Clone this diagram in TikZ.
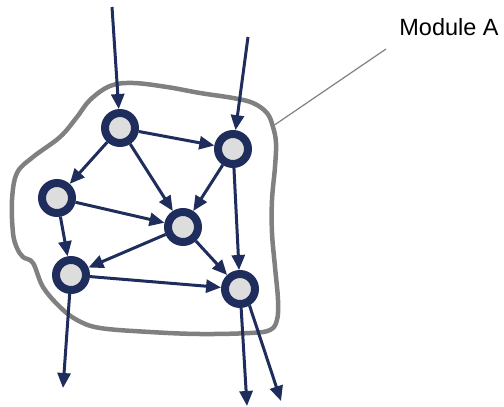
\documentclass[tikz,border=0pt]{standalone}
\usepackage{fontspec}
\setmainfont{Liberation Sans}
\usetikzlibrary{arrows.meta}
\definecolor{navy}{RGB}{31,45,92}
\definecolor{nodefill}{RGB}{221,221,221}
\definecolor{blobgray}{RGB}{128,128,128}
\begin{document}
\begin{tikzpicture}[
  x=1pt, y=-1pt,
  vertex/.style={circle, draw=navy, line width=8pt, fill=nodefill, minimum size=30pt, inner sep=0pt, outer sep=4pt},
  arrow/.style={-{Triangle[length=15pt,width=13pt]}, draw=navy, line width=3pt},
  blob/.style={draw=blobgray, line width=4.5pt},
  leader/.style={draw=blobgray, line width=1.2pt},
]
\useasboundingbox (0,0) rectangle (504,407);

% Module outline
\draw[blob] plot[smooth cycle, tension=0.6] coordinates {
  (110,86) (133,83) (167,87) (200,93) (233,98) (253,103) (267,113) (273,127)
  (276,143) (275,167) (272,200) (272,233) (275,267) (278,300) (277,320) (270,330)
  (250,333) (200,334) (150,332) (100,328) (77,320) (60,307) (43,287) (33,263)
  (23,257) (17,248) (13,233) (12,200) (17,173) (33,157) (60,137) (77,117) (90,100)};

% Label
\coordinate (rim) at (273,126);
\node[font=\fontsize{23.5}{28}\selectfont] (label) at (449,27) {Module A};
\draw[leader] (rim) -- (386,49);

% Vertices
\node[vertex] (a) at (120,128) {};
\node[vertex] (b) at (233,149) {};
\node[vertex] (c) at (57,198) {};
\node[vertex] (d) at (183,227) {};
\node[vertex] (e) at (71,275) {};
\node[vertex] (f) at (240,289) {};

% Inputs and outputs
\coordinate (inA) at (112,7);
\coordinate (inB) at (248,37);
\coordinate (outE) at (63,388);
\coordinate (outF1) at (247,406);
\coordinate (outF2) at (281,401);

\draw[arrow] (inA) -- (a);
\draw[arrow] (inB) -- (b);
\draw[arrow] (e) -- (outE);
\draw[arrow] (f) -- (outF1);
\draw[arrow] (f.-60) -- (outF2);

% Internal edges
\draw[arrow] (a) -- (b);
\draw[arrow] (a) -- (c);
\draw[arrow] (a) -- (d);
\draw[arrow] (b) -- (d);
\draw[arrow] (b) -- (f);
\draw[arrow] (c) -- (d);
\draw[arrow] (c) -- (e);
\draw[arrow] (d) -- (e);
\draw[arrow] (d) -- (f);
\draw[arrow] (e) -- (f);

\end{tikzpicture}
\end{document}
